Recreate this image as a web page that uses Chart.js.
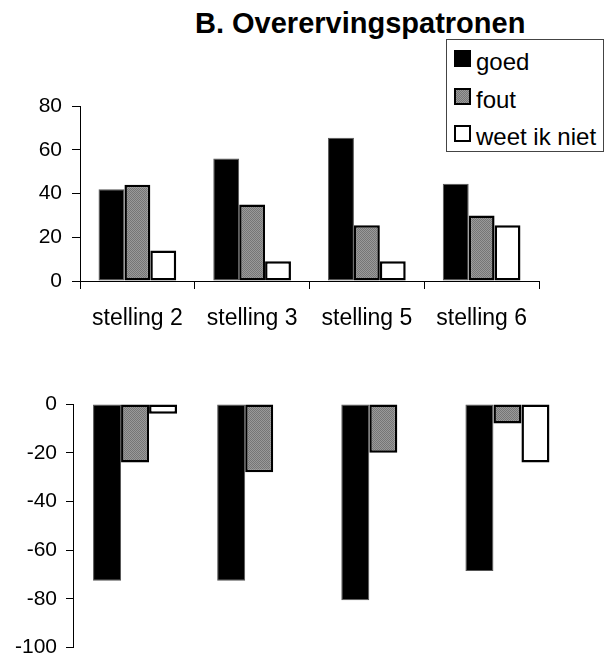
<!DOCTYPE html>
<html>
<head>
<meta charset="utf-8">
<title>B. Overervingspatronen</title>
<script src="https://cdn.jsdelivr.net/npm/chart.js@4/dist/chart.umd.min.js"></script>
<style>
    html, body { margin: 0; padding: 0; background: #fff; }
    body { width: 612px; height: 656px; position: relative; overflow: hidden;
           font-family: 'Liberation Sans', Arial, sans-serif; color: #000; }
    #title { position: absolute; left: 195px; top: 9px; font-size: 29px; font-weight: bold;
             line-height: 29px; white-space: nowrap; }
    #legend { position: absolute; left: 446px; top: 39px; width: 158px; height: 113px;
              border: 1px solid #444; padding: 3px 0 0 7px; box-sizing: border-box;
              font-size: 24px; line-height: 37.5px; background: #fff; z-index: 2; }
    #legend .item { white-space: nowrap; }
    #legend .swatch { display: inline-block; width: 17px; height: 17px; box-sizing: border-box;
                      margin: 0 5px 3px 0; vertical-align: baseline; }
    .box { position: absolute; left: 0; width: 612px; }
    #topBox { top: 0; height: 350px; }
    #bottomBox { top: 350px; height: 320px; }
</style>
</head>
<body>
<div id="title">B. Overervingspatronen</div>
<div id="legend"></div>
<div class="box" id="topBox"><canvas id="topChart"></canvas></div>
<div class="box" id="bottomBox"><canvas id="bottomChart"></canvas></div>

<script>
// Categorieën en percentages per antwoord
const stellingen = ['stelling 2', 'stelling 3', 'stelling 5', 'stelling 6'];
const reeksNamen = ['goed', 'fout', 'weet ik niet'];

// bovenste grafiek
const goedBoven = [42, 56, 65.5, 44.5];
const foutBoven = [44, 35, 25.5, 30];
const weetBoven = [14, 9, 9, 25.5];

// onderste grafiek (negatief)
const goedOnder = [-72.5, -72.5, -80.5, -68.5];
const foutOnder = [-24, -28, -20, -8];
const weetOnder = [-4, 0, 0, -24];

const yTicksBoven = [0, 20, 40, 60, 80];
const yTicksOnder = [0, -20, -40, -60, -80, -100];

const FONT = "'Liberation Sans', Arial, sans-serif";
Chart.defaults.font.family = FONT;
Chart.defaults.color = '#000';

// grijs rasterpatroon voor 'fout'
function maakRaster() {
    const c = document.createElement('canvas');
    c.width = 2; c.height = 2;
    const g = c.getContext('2d');
    g.fillStyle = '#9a9a9a'; g.fillRect(0, 0, 2, 2);
    g.fillStyle = '#767676'; g.fillRect(0, 0, 1, 1); g.fillRect(1, 1, 1, 1);
    return g.createPattern(c, 'repeat');
}
const raster = maakRaster();

const stijlen = [
    { backgroundColor: '#000', borderColor: '#555', borderWidth: 1 },
    { backgroundColor: raster, borderColor: '#000', borderWidth: 2.5 },
    { backgroundColor: '#fff', borderColor: '#000', borderWidth: 2.5 }
];

function datasets(reeksen) {
    return reeksen.map((data, i) => Object.assign({
        label: reeksNamen[i],
        data: data,
        borderSkipped: false,
        categoryPercentage: 0.677,
        barPercentage: 1
    }, stijlen[i]));
}

function yAs(ticks, tickLength, padding, breedte) {
    return {
        min: Math.min(...ticks),
        max: Math.max(...ticks),
        afterFit: s => { s.width = breedte; },
        afterBuildTicks: s => { s.ticks = ticks.map(v => ({ value: v })); },
        grid: { drawOnChartArea: false, tickLength: tickLength, color: '#000' },
        border: { color: '#000', width: 1 },
        ticks: { padding: padding, font: { size: 21 }, color: '#000' }
    };
}

const basis = {
    responsive: true,
    maintainAspectRatio: false,
    animation: false,
    events: [],
    plugins: { legend: { display: false }, title: { display: false }, tooltip: { enabled: false } }
};

// --- bovenste grafiek ---
new Chart(document.getElementById('topChart'), {
    type: 'bar',
    data: { labels: stellingen, datasets: datasets([goedBoven, foutBoven, weetBoven]) },
    options: Object.assign({}, basis, {
        layout: { padding: { top: 106, left: 0, right: 73, bottom: 0 } },
        scales: {
            x: {
                afterFit: s => { s.height = 69; },
                grid: { offset: true, drawOnChartArea: false, tickLength: 8, color: '#000' },
                border: { color: '#000', width: 1 },
                ticks: { padding: 16, font: { size: 23 }, color: '#000', maxRotation: 0 }
            },
            y: yAs(yTicksBoven, 8, 10, 80)
        }
    })
});

// --- onderste grafiek ---
new Chart(document.getElementById('bottomChart'), {
    type: 'bar',
    data: { labels: stellingen, datasets: datasets([goedOnder, foutOnder, weetOnder]) },
    options: Object.assign({}, basis, {
        layout: { padding: { top: 54, left: 0, right: 42.5, bottom: 22.3 } },
        scales: {
            x: { display: false },
            y: yAs(yTicksOnder, 7, 9, 73)
        }
    })
});

// legenda
const legend = document.getElementById('legend');
reeksNamen.forEach((naam, i) => {
    const item = document.createElement('div');
    item.className = 'item';
    const sw = document.createElement('span');
    sw.className = 'swatch';
    if (i === 0) sw.style.background = '#000';
    if (i === 1) {
        sw.style.border = '2px solid #000';
        sw.style.background = 'repeating-conic-gradient(#767676 0 25%, #9a9a9a 0 50%) 0 0 / 2px 2px';
    }
    if (i === 2) { sw.style.border = '2px solid #000'; sw.style.background = '#fff'; }
    item.appendChild(sw);
    item.appendChild(document.createTextNode(naam));
    legend.appendChild(item);
});
</script>
</body>
</html>
